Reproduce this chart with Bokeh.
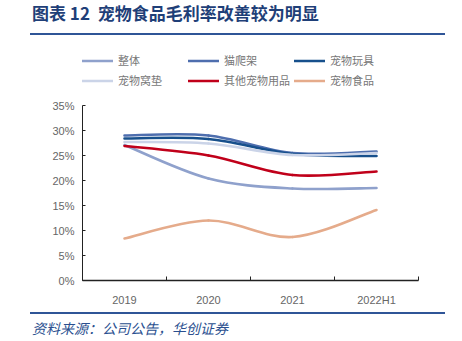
from bokeh.plotting import figure
from bokeh.models import Range1d, FixedTicker, Legend, LegendItem, ColumnDataSource, Div
from bokeh.layouts import column
from bokeh.embed import file_html
from bokeh.resources import INLINE

categories = ["2019", "2020", "2021", "2022H1"]
series_names = ["整体", "猫爬架", "宠物玩具", "宠物窝垫", "其他宠物用品", "宠物食品"]
overall = [27.1, 20.4, 18.4, 18.5]
cat_tree = [29.0, 29.0, 25.5, 25.8]
toys = [28.4, 28.3, 25.3, 24.9]
beds = [27.7, 27.4, 25.1, 25.5]
other_supplies = [26.9, 25.0, 21.1, 21.8]
pet_food = [8.4, 12.0, 8.7, 14.1]
y_ticks = [0, 5, 10, 15, 20, 25, 30, 35]
title_text = "图表 12&nbsp;&nbsp;宠物食品毛利率改善较为明显"
source_text = "资料来源：公司公告，华创证券"

colors = ["#8fa1cc", "#4e6eae", "#17508c", "#cbd4e8", "#c0001a", "#e5ab8b"]
all_series = [overall, cat_tree, toys, beds, other_supplies, pet_food]

p = figure(width=462, height=277, output_backend="svg", toolbar_location=None,
           x_range=Range1d(0.5, 4.5), y_range=Range1d(0, 48),
           min_border_left=82, min_border_right=44, min_border_top=5, min_border_bottom=32,
           margin=(0, 0, 0, 0))
p.outline_line_color = None
p.xgrid.visible = False
p.ygrid.visible = False

xt = FixedTicker(ticks=[1, 2, 3, 4], minor_ticks=[0.5, 1.5, 2.5, 3.5, 4.5])
p.xaxis.ticker = xt
p.xaxis.major_label_overrides = {i + 1: c for i, c in enumerate(categories)}
p.xaxis.major_tick_line_color = None
p.xaxis.minor_tick_in = 4
p.xaxis.minor_tick_out = 0
p.xaxis.minor_tick_line_color = "#222222"
p.xaxis.axis_line_color = "#222222"
p.xaxis.axis_line_width = 1.5
p.xaxis.major_label_text_color = "#666666"
p.xaxis.major_label_text_font = "Liberation Sans"
p.xaxis.major_label_text_font_size = "11px"
p.xaxis.major_label_standoff = 7

p.yaxis.ticker = FixedTicker(ticks=y_ticks)
p.yaxis.bounds = (0, 35)
p.yaxis.major_label_overrides = {t: f"{t}%" for t in y_ticks}
p.yaxis.major_tick_in = 3
p.yaxis.major_tick_out = 0
p.yaxis.minor_tick_line_color = None
p.yaxis.axis_line_color = "#222222"
p.yaxis.major_tick_line_color = "#222222"
p.yaxis.major_label_text_color = "#666666"
p.yaxis.major_label_text_font = "Liberation Sans"
p.yaxis.major_label_text_font_size = "11px"
p.yaxis.major_label_standoff = 8

# smooth curves via cubic bezier segments (Catmull-Rom control points)
xs = [1, 2, 3, 4]
items = []
for name, vals, col in zip(series_names, all_series, colors):
    n = len(vals)
    d = dict(x0=[], y0=[], x1=[], y1=[], cx0=[], cy0=[], cx1=[], cy1=[])
    for i in range(n - 1):
        pm = i - 1 if i > 0 else i
        pp = i + 2 if i + 2 < n else i + 1
        d["x0"].append(xs[i]); d["y0"].append(vals[i])
        d["x1"].append(xs[i + 1]); d["y1"].append(vals[i + 1])
        d["cx0"].append(xs[i] + (xs[i + 1] - xs[pm]) / 6)
        d["cy0"].append(vals[i] + (vals[i + 1] - vals[pm]) / 6)
        d["cx1"].append(xs[i + 1] - (xs[pp] - xs[i]) / 6)
        d["cy1"].append(vals[i + 1] - (vals[pp] - vals[i]) / 6)
    r = p.bezier(x0="x0", y0="y0", x1="x1", y1="y1", cx0="cx0", cy0="cy0", cx1="cx1", cy1="cy1",
                 source=ColumnDataSource(d), line_color=col, line_width=2.6, line_cap="round")
    items.append(LegendItem(label=name, renderers=[r]))

legend = Legend(items=items, ncols=3, location=(0, 192), orientation="horizontal",
                label_text_font="Noto Sans CJK SC", label_text_font_size="11px",
                label_text_color="#777777", glyph_width=31, glyph_height=13, label_height=13,
                spacing=4, label_standoff=5, label_width=66, padding=0, margin=0,
                border_line_color=None, background_fill_alpha=0)
p.add_layout(legend, "center")

title_div = Div(
    text=f'<div style="font-family:\'Noto Sans CJK SC\';font-weight:bold;font-size:17px;'
         f'color:#1f3f78;line-height:26px;padding-left:2px;white-space:nowrap;">{title_text}</div>',
    width=415, height=35, margin=(0, 0, 0, 30),
    styles={"border-bottom": "2px solid #2f5597"})
source_div = Div(
    text=f'<div style="font-family:\'Noto Sans CJK SC\';font-style:italic;font-size:14px;'
         f'color:#2a4f8f;line-height:29px;padding-left:2px;white-space:nowrap;">{source_text}</div>',
    width=415, height=29, margin=(0, 0, 0, 30),
    styles={"border-top": "2px solid #2f5597"})

layout = column(title_div, p, source_div, spacing=0, margin=(0, 0, 0, 0))
open("out.html", "w").write(file_html(layout, INLINE))
